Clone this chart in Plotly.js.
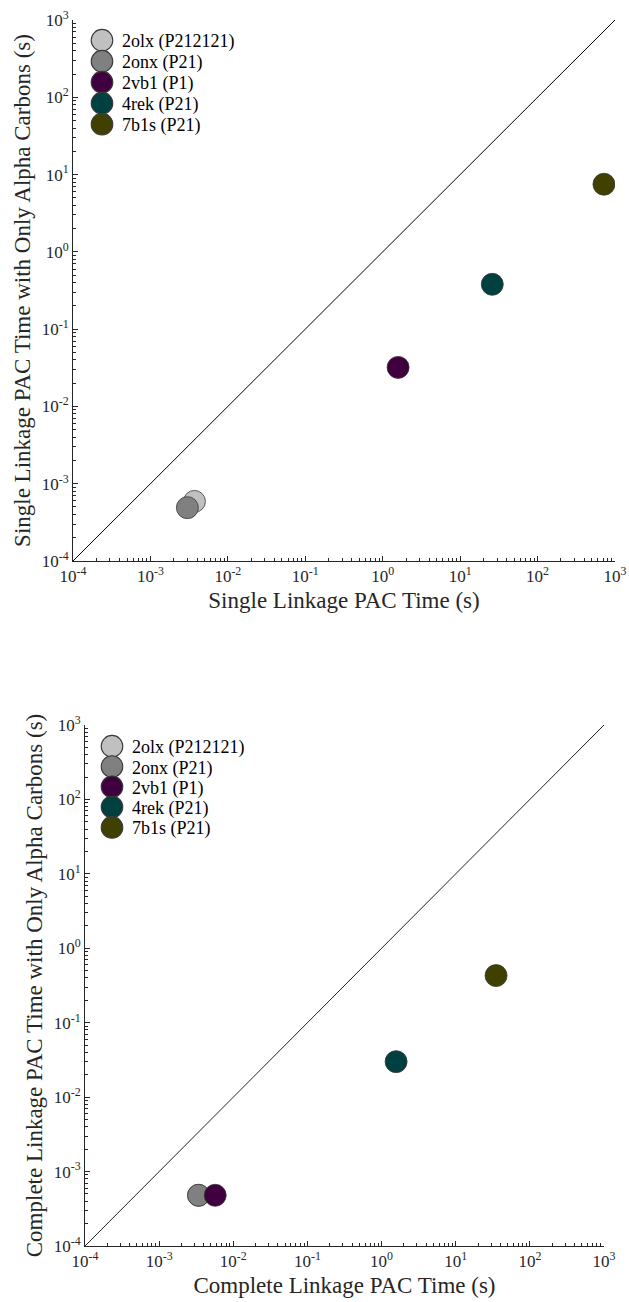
<!DOCTYPE html>
<html>
<head>
<meta charset="utf-8">
<script src="https://cdn.plot.ly/plotly-3.0.1.min.js"></script>
<style>html,body{margin:0;padding:0;background:#fff;}#chart{width:629px;height:1302px;}</style>
</head>
<body>
<div id="chart"></div>
<script>
// ---- data ----
const names = ["2olx (P212121)", "2onx (P21)", "2vb1 (P1)", "4rek (P21)", "7b1s (P21)"];
const colors = ["#c0c0c0", "#808080", "#400040", "#004040", "#404000"];
// Single linkage (top)
const singleX = [0.0037, 0.0030, 1.58, 26, 720];
const singleY = [0.00059, 0.00049, 0.032, 0.38, 7.5];
// Complete linkage (bottom)
const completeX = [0.0034, 0.0034, 0.0057, 1.57, 35];
const completeY = [0.00048, 0.00048, 0.00048, 0.030, 0.43];
// identity line
const diagX = [1e-4, 1e3];
const diagY = [1e-4, 1e3];
// ticks
const tickVals = [1e-4, 1e-3, 1e-2, 1e-1, 1e0, 1e1, 1e2, 1e3];
const tickText = ["10<sup>-4</sup>", "10<sup>-3</sup>", "10<sup>-2</sup>", "10<sup>-1</sup>", "10<sup>0</sup>", "10<sup>1</sup>", "10<sup>2</sup>", "10<sup>3</sup>"];
const minorMult = [2, 3, 4, 5, 6, 7, 8, 9];

const minorVals = [];
tickVals.slice(0, -1).forEach(function (d) { minorMult.forEach(function (m) { minorVals.push(d * m); }); });

const FONT = "'Liberation Serif', 'Times New Roman', serif";
const AX = "#262626";

const traces = [];
traces.push({x: diagX, y: diagY, mode: "lines", line: {color: "#000", width: 1}, showlegend: false, xaxis: "x", yaxis: "y", hoverinfo: "skip"});
traces.push({x: diagX, y: diagY, mode: "lines", line: {color: "#222", width: 1}, showlegend: false, xaxis: "x2", yaxis: "y2", hoverinfo: "skip"});
for (let i = 0; i < names.length; i++) {
  traces.push({x: [singleX[i]], y: [singleY[i]], mode: "markers", name: names[i],
    marker: {size: 22, color: colors[i], line: {color: "#3a3a3a", width: 0.8}},
    xaxis: "x", yaxis: "y", legend: "legend"});
}
for (let i = 0; i < names.length; i++) {
  traces.push({x: [completeX[i]], y: [completeY[i]], mode: "markers", name: names[i],
    marker: {size: 22, color: colors[i], line: {color: "#3a3a3a", width: 0.8}},
    xaxis: "x2", yaxis: "y2", legend: "legend2"});
}

function axis(domain, title, anchor, isY) {
  return {
    type: "log", range: [-4, 3], domain: domain, anchor: anchor,
    tickmode: "array", tickvals: tickVals, ticktext: tickText,
    ticks: "inside", ticklen: 5, tickwidth: 1, tickcolor: AX,
    minor: {tickmode: "array", tickvals: minorVals, ticks: "inside", ticklen: 3, tickwidth: 1, tickcolor: AX, showgrid: false},
    showline: true, linecolor: AX, linewidth: 1, mirror: false,
    showgrid: false, zeroline: false,
    tickfont: {family: FONT, size: 17, color: AX},
    title: {text: title, font: {family: FONT, size: 23, color: AX}, standoff: isY ? 4 : 6},
    automargin: false, fixedrange: true
  };
}

const H = 1302, W = 629;
const layout = {
  width: W, height: H,
  margin: {l: 0, r: 0, t: 0, b: 0},
  paper_bgcolor: "#fff", plot_bgcolor: "#fff",
  showlegend: true,
  xaxis: axis([73 / W, 615 / W], "Single Linkage PAC Time (s)", "y", false),
  yaxis: axis([(H - 561) / H, (H - 20) / H], "Single Linkage PAC Time with Only Alpha Carbons (s)", "x", true),
  xaxis2: axis([85 / W, 604 / W], "Complete Linkage PAC Time (s)", "y2", false),
  yaxis2: axis([(H - 1246) / H, (H - 725) / H], "Complete Linkage PAC Time with Only Alpha Carbons (s)", "x2", true),
  legend: {x: 82 / W, y: (H - 22) / H, xanchor: "left", yanchor: "top", bgcolor: "rgba(0,0,0,0)",
    font: {family: FONT, size: 18, color: "#000"}, tracegroupgap: 0},
  legend2: {x: 92 / W, y: (H - 728) / H, xanchor: "left", yanchor: "top", bgcolor: "rgba(0,0,0,0)",
    font: {family: FONT, size: 18, color: "#000"}, tracegroupgap: 0}
};

const rowGap = {legend: 21, legend2: 20.3};

Plotly.newPlot("chart", traces, layout, {displayModeBar: false, staticPlot: true}).then(function () {
  document.querySelectorAll(".legendpoints path.scatterpts").forEach(function (p) {
    p.setAttribute("transform", (p.getAttribute("transform") || "") + " scale(1.35)");
  });
  ["legend", "legend2"].forEach(function (id) {
    const root = document.querySelector("g." + id);
    if (!root) return;
    const items = root.querySelectorAll("g.traces");
    let y0 = null;
    items.forEach(function (g, i) {
      const m = /translate\(\s*([-\d.]+)[ ,]+([-\d.]+)/.exec(g.getAttribute("transform") || "");
      if (!m) return;
      if (y0 === null) y0 = parseFloat(m[2]);
      g.setAttribute("transform", "translate(" + m[1] + "," + (y0 + i * rowGap[id]) + ")");
    });
  });
});
</script>
</body>
</html>
